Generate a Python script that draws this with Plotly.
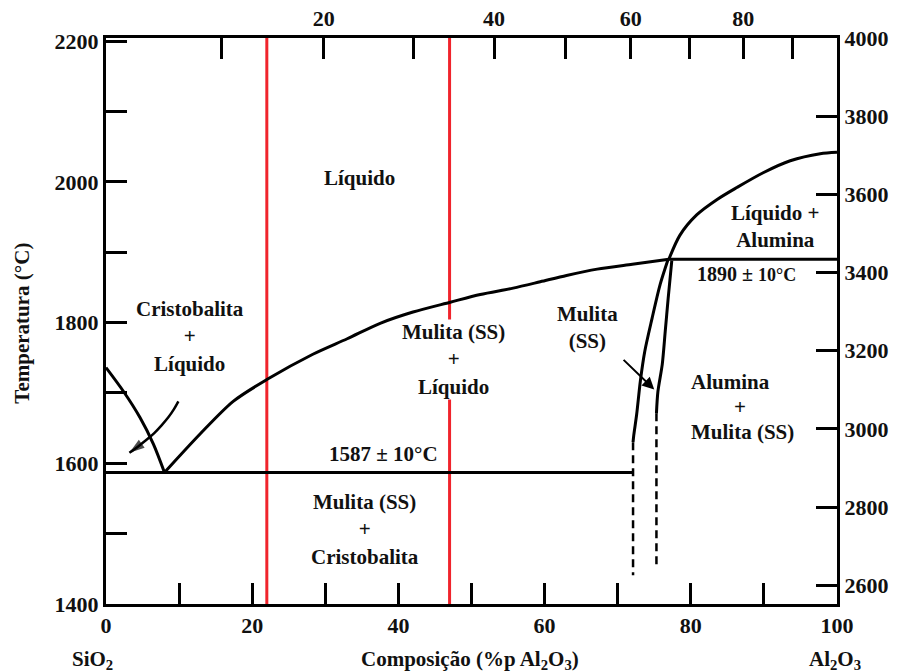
import plotly.graph_objects as go

# ---------------- data (wt% Al2O3, temperature in °C) ----------------
sio2_liq_x = [0, 2.4, 4.65, 6.5, 8.0]
sio2_liq_T = [1736, 1702, 1665, 1627, 1587]

mul_liq_x = [8, 12.9, 17.4, 22.0, 28.3, 33.0, 37.5, 42.0, 47.1, 51.2, 55.7, 59.4, 63.0, 67.2, 72.0, 77.0]
mul_liq_T = [1587, 1642, 1688, 1719, 1755, 1777, 1799, 1815, 1829, 1840, 1849, 1858, 1867, 1876, 1883, 1890]

al_liq_x = [77.0, 78.5, 80.8, 83.6, 86.3, 89.9, 93.6, 97.7, 100]
al_liq_T = [1890, 1924, 1953, 1975, 1992, 2013, 2030, 2040, 2042]

peritectic_x = [77.0, 100]
peritectic_T = [1890, 1890]
eutectic_x = [0, 72.0]
eutectic_T = [1587, 1587]

mul_left_x = [76.9, 75.8, 74.7, 73.7, 73.1, 72.6, 72.2, 72.1]
mul_left_T = [1890, 1854, 1806, 1759, 1717, 1670, 1640, 1630]
mul_left_dash_x = [72.1, 72.1]
mul_left_dash_T = [1630, 1441]

mul_right_x = [77.4, 76.9, 76.5, 76.1, 75.5, 75.3]
mul_right_T = [1888, 1834, 1787, 1741, 1702, 1671]
mul_right_dash_x = [75.3, 75.3]
mul_right_dash_T = [1671, 1450]

arrow_left_x = [9.9, 9.3, 8.5, 7.6, 6.6, 5.5, 4.4, 3.2]
arrow_left_T = [1688, 1677, 1665, 1654, 1643, 1633, 1624, 1615]

red_lines_x = [22, 47]

bottom_ticks = [0, 10, 20, 30, 40, 50, 60, 70, 80, 90, 100]
bottom_labels = ["0", "", "20", "", "40", "", "60", "", "80", "", "100"]
left_ticks = [1400, 1500, 1600, 1700, 1800, 1900, 2000, 2100, 2200]
left_labels = ["1400", "", "1600", "", "1800", "", "2000", "", "2200"]
right_ticks = [2600, 2800, 3000, 3200, 3400, 3600, 3800, 4000]
top_mol_ticks = [10, 20, 30, 40, 50, 60, 70, 80, 90]
top_mol_labels = ["", "20", "", "40", "", "60", "", "80", ""]

M_AL2O3 = 101.96
M_SIO2 = 60.08


def mol_to_wt(m):
    a = m * M_AL2O3
    s = (100 - m) * M_SIO2
    return 100 * a / (a + s)


def c_to_f(t):
    return t * 9 / 5 + 32


T_MIN, T_MAX = 1400, 2204.5
FONT = "Liberation Serif"
TXT = "#111111"
LW = 3

fig = go.Figure()


def line(x, y, dash=None, width=LW, shape="linear"):
    fig.add_trace(go.Scatter(x=x, y=y, mode="lines",
                             line=dict(color="black", width=width, dash=dash,
                                       shape=shape, smoothing=0.8),
                             hoverinfo="skip", showlegend=False))


for rx in red_lines_x:
    fig.add_trace(go.Scatter(x=[rx, rx], y=[T_MIN, T_MAX], mode="lines",
                             line=dict(color="#f0242c", width=3),
                             hoverinfo="skip", showlegend=False))

line(sio2_liq_x, sio2_liq_T, shape="spline")
line(mul_liq_x, mul_liq_T, shape="spline")
line(al_liq_x, al_liq_T, shape="spline")
line(peritectic_x, peritectic_T)
line(eutectic_x, eutectic_T)
line(mul_left_x, mul_left_T, shape="spline")
line(mul_left_dash_x, mul_left_dash_T, dash="8px,5px", width=2.5)
line(mul_right_x, mul_right_T, shape="spline")
line(mul_right_dash_x, mul_right_dash_T, dash="8px,5px", width=2.5)

# curved arrow (left)
fig.add_trace(go.Scatter(
    x=arrow_left_x, y=arrow_left_T, mode="lines",
    line=dict(color="black", width=2.5, shape="spline", smoothing=1.0),
    hoverinfo="skip", showlegend=False))
fig.add_trace(go.Scatter(
    x=arrow_left_x[-2:], y=arrow_left_T[-2:], mode="markers",
    marker=dict(symbol="arrow", size=[0, 16], angleref="previous",
                color="black", line=dict(width=0)),
    hoverinfo="skip", showlegend=False))

# dummy trace for secondary axes
fig.add_trace(go.Scatter(x=[None], y=[None], xaxis="x2", yaxis="y2",
                         showlegend=False, hoverinfo="skip"))

ann = []
LS = 21


def label(text, x, y, size=LS, xanchor="center", bg=None):
    d = dict(text=f"<b>{text}</b>", x=x, y=y, xref="x", yref="y",
             showarrow=False, xanchor=xanchor, yanchor="middle",
             font=dict(family=FONT, size=size, color=TXT), align="center")
    if bg:
        d["bgcolor"] = bg
        d["borderpad"] = 0
    ann.append(d)


label("Líquido", 34.7, 2006)
label("Cristobalita<br>+<br>Líquido", 11.5, 1780)
label("Mulita (SS)<br>+<br>Líquido", 47.5, 1748, bg="white")
label("Mulita<br>(SS)", 65.9, 1793)
label("Líquido +<br>Alumina", 91.5, 1936)
label("1890 ± <span style='font-size:18px'>10°C</span>", 87.6, 1869, size=20)
label("Alumina", 79.8, 1716, xanchor="left")
label("+", 86.7, 1680)
label("Mulita (SS)", 79.8, 1644, xanchor="left")
label("1587 ± 10°C", 37.9, 1613)
label("Mulita (SS)<br>+<br>Cristobalita", 35.4, 1506)

# right arrow
ann.append(dict(x=75.0, y=1705, ax=70.6, ay=1749, xref="x", yref="y",
                axref="x", ayref="y", showarrow=True, arrowhead=2,
                arrowsize=1.2, arrowwidth=2, arrowcolor="black", text=""))


def paper_text(text, x, y, angle=0):
    ann.append(dict(text=f"<b>{text}</b>", x=x, y=y, xref="paper", yref="paper",
                    xanchor="center", yanchor="middle", showarrow=False,
                    textangle=angle, font=dict(family=FONT, size=LS, color=TXT)))


paper_text("Temperatura (°C)", -0.115, 0.497, angle=-90)
paper_text("SiO<sub>2</sub>", -0.018, -0.099)
paper_text("Composição (%p Al<sub>2</sub>O<sub>3</sub>)", 0.498, -0.099)
paper_text("Al<sub>2</sub>O<sub>3</sub>", 0.997, -0.099)

tickfont = dict(family=FONT, size=22, color=TXT, weight="bold")
axis_common = dict(showline=True, linecolor="black", linewidth=3,
                   ticks="inside", ticklen=21, tickwidth=3, tickcolor="black",
                   showgrid=False, zeroline=False, tickfont=tickfont,
                   fixedrange=True, automargin=False)

fig.update_layout(
    width=904, height=672,
    margin=dict(l=106, r=67, t=38, b=68),
    paper_bgcolor="white", plot_bgcolor="white",
    showlegend=False,
    annotations=ann,
    xaxis=dict(range=[0, 100], tickmode="array", tickvals=bottom_ticks,
               ticktext=bottom_labels, **axis_common),
    yaxis=dict(range=[T_MIN, T_MAX], tickmode="array", tickvals=left_ticks,
               ticktext=left_labels, **axis_common),
    xaxis2=dict(range=[0, 100], overlaying="x", side="top", anchor="y",
                tickmode="array",
                tickvals=[mol_to_wt(m) for m in top_mol_ticks],
                ticktext=top_mol_labels, **axis_common),
    yaxis2=dict(range=[c_to_f(T_MIN), c_to_f(T_MAX)], overlaying="y",
                side="right", anchor="x", tickmode="array",
                tickvals=right_ticks,
                ticktext=[str(v) for v in right_ticks], **axis_common),
)

fig.write_html("out.html")
